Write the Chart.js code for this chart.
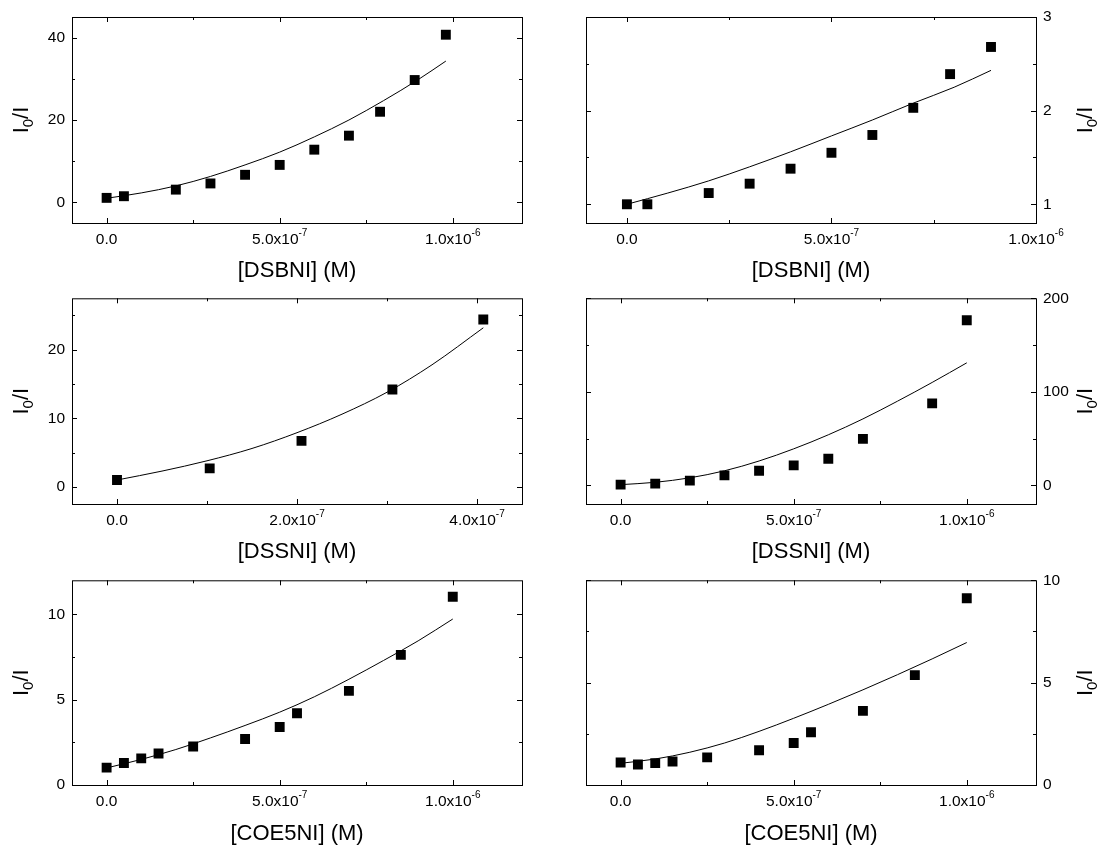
<!DOCTYPE html>
<html>
<head>
<meta charset="utf-8">
<script src="https://cdn.jsdelivr.net/npm/chart.js@4.4.0/dist/chart.umd.min.js"></script>
<style>
  html, body { margin: 0; padding: 0; background: #fff; }
  #wrap { position: relative; width: 1104px; height: 846px; }
  canvas { position: absolute; }
</style>
</head>
<body>
<div id="wrap">
  <canvas id="p1" width="552" height="282" style="left:0;top:0"></canvas>
  <canvas id="p2" width="552" height="282" style="left:552px;top:0"></canvas>
  <canvas id="p3" width="552" height="282" style="left:0;top:282px"></canvas>
  <canvas id="p4" width="552" height="282" style="left:552px;top:282px"></canvas>
  <canvas id="p5" width="552" height="282" style="left:0;top:564px"></canvas>
  <canvas id="p6" width="552" height="282" style="left:552px;top:564px"></canvas>
</div>
<script>
// ---- datos ----
// DSBNI (arriba izquierda)
const conc1 = [0, 0.5e-7, 2e-7, 3e-7, 4e-7, 5e-7, 6e-7, 7e-7, 7.9e-7, 8.9e-7, 9.8e-7];
const ratio1 = [1.1, 1.5, 3.1, 4.6, 6.7, 9.1, 12.8, 16.2, 22.0, 29.7, 40.7];
const fitConc1 = [0, 1e-7, 2e-7, 3e-7, 4e-7, 5e-7, 6e-7, 7e-7, 8e-7, 9e-7, 9.8e-7];
const fitRatio1 = [1.0, 2.3, 4.0, 6.3, 9.1, 12.2, 15.9, 20.0, 24.7, 29.8, 34.3];

// DSBNI (arriba derecha)
const conc2 = [0, 0.5e-7, 2e-7, 3e-7, 4e-7, 5e-7, 6e-7, 7e-7, 7.9e-7, 8.9e-7];
const ratio2 = [1.0, 1.0, 1.12, 1.22, 1.38, 1.55, 1.74, 2.03, 2.39, 2.68];
const fitConc2 = [0, 1e-7, 2e-7, 3e-7, 4e-7, 5e-7, 6e-7, 7e-7, 8e-7, 8.9e-7];
const fitRatio2 = [1.0, 1.12, 1.25, 1.40, 1.56, 1.73, 1.90, 2.08, 2.25, 2.43];

// DSSNI (centro izquierda)
const conc3 = [0, 1.03e-7, 2.05e-7, 3.06e-7, 4.07e-7];
const ratio3 = [1.0, 2.7, 6.7, 14.2, 24.4];
const fitConc3 = [0, 0.5e-7, 1e-7, 1.5e-7, 2e-7, 2.5e-7, 3e-7, 3.5e-7, 4.07e-7];
const fitRatio3 = [1.0, 2.3, 3.8, 5.6, 7.9, 10.6, 13.8, 17.8, 23.2];

// DSSNI (centro derecha)
const conc4 = [0, 1e-7, 2e-7, 3e-7, 4e-7, 5e-7, 6e-7, 7e-7, 9e-7, 1e-6];
const ratio4 = [0.7, 1.8, 5.0, 10.6, 15.6, 21.3, 28.4, 49.6, 87.6, 176.6];
const fitConc4 = [0, 1e-7, 2e-7, 3e-7, 4e-7, 5e-7, 6e-7, 7e-7, 8e-7, 9e-7, 1e-6];
const fitRatio4 = [0.7, 3.2, 8.0, 15.5, 26, 39, 54, 71, 90, 110, 131];

// COE5NI (abajo izquierda)
const conc5 = [0, 0.5e-7, 1e-7, 1.5e-7, 2.5e-7, 4e-7, 5e-7, 5.5e-7, 7e-7, 8.5e-7, 1e-6];
const ratio5 = [1.02, 1.29, 1.56, 1.85, 2.26, 2.70, 3.40, 4.21, 5.52, 7.63, 11.04];
const fitConc5 = [0, 1e-7, 2e-7, 3e-7, 4e-7, 5e-7, 6e-7, 7e-7, 8e-7, 9e-7, 1e-6];
const fitRatio5 = [1.0, 1.5, 2.08, 2.76, 3.49, 4.27, 5.17, 6.2, 7.3, 8.45, 9.73];

// COE5NI (abajo derecha)
const conc6 = [0, 0.5e-7, 1e-7, 1.5e-7, 2.5e-7, 4e-7, 5e-7, 5.5e-7, 7e-7, 8.5e-7, 1e-6];
const ratio6 = [1.1, 1.0, 1.07, 1.15, 1.35, 1.7, 2.05, 2.58, 3.62, 5.37, 9.12];
const fitConc6 = [0, 1e-7, 2e-7, 3e-7, 4e-7, 5e-7, 6e-7, 7e-7, 8e-7, 9e-7, 1e-6];
const fitRatio6 = [1.06, 1.27, 1.60, 2.05, 2.62, 3.26, 3.94, 4.65, 5.39, 6.16, 6.96];

// ---- ticks ----
const xMajorA = [0, 5e-7, 1e-6];
const xMinorA = [2.5e-7, 7.5e-7];
const xBaseA = ['0.0', '5.0x10', '1.0x10'];
const xExpA = ['', '-7', '-6'];
const xMajorB = [0, 2e-7, 4e-7];
const xMinorB = [1e-7, 3e-7];
const xBaseB = ['0.0', '2.0x10', '4.0x10'];
const xExpB = ['', '-7', '-7'];

const yMajor1 = [0, 20, 40], yMinor1 = [10, 30];
const yMajor2 = [1, 2, 3], yMinor2 = [1.5, 2.5];
const yMajor3 = [0, 10, 20], yMinor3 = [5, 15, 25];
const yMajor4 = [0, 100, 200], yMinor4 = [50, 150];
const yMajor5 = [0, 5, 10], yMinor5 = [2.5, 7.5];
const yMajor6 = [0, 5, 10], yMinor6 = [2.5, 7.5];

const FAMILY = '"Liberation Sans", Arial, Helvetica, sans-serif';
const tickFont = '15.5px ' + FAMILY;
const supFont = '10px ' + FAMILY;

// marco, ticks hacia dentro y textos con super/subíndice
const framePlugin = {
  id: 'frame',
  beforeDatasetsDraw(chart, args, o) {
    const { ctx, chartArea: a, scales: { x, y } } = chart;
    ctx.save();
    ctx.strokeStyle = '#000';
    ctx.lineWidth = 1;
    ctx.strokeRect(a.left + 0.5, a.top + 0.5, a.right - a.left, a.bottom - a.top);
    ctx.beginPath();
    const xt = (v, len) => {
      const px = Math.round(x.getPixelForValue(v)) + 0.5;
      ctx.moveTo(px, a.bottom); ctx.lineTo(px, a.bottom - len);
      ctx.moveTo(px, a.top); ctx.lineTo(px, a.top + len);
    };
    const yt = (v, len) => {
      const py = Math.round(y.getPixelForValue(v)) + 0.5;
      ctx.moveTo(a.left, py); ctx.lineTo(a.left + len, py);
      ctx.moveTo(a.right, py); ctx.lineTo(a.right - len, py);
    };
    o.xMajor.forEach(v => xt(v, 5));
    o.xMinor.forEach(v => xt(v, 3));
    o.yMajor.forEach(v => yt(v, 5));
    o.yMinor.forEach(v => yt(v, 3));
    ctx.stroke();
    ctx.restore();
  },
  afterDraw(chart, args, o) {
    const { ctx, chartArea: a, scales: { x } } = chart;
    ctx.save();
    ctx.fillStyle = '#000';
    ctx.textAlign = 'left';
    ctx.textBaseline = 'alphabetic';
    // etiquetas del eje x con exponente
    const by = a.bottom + 21;
    o.xMajor.forEach((v, i) => {
      ctx.font = tickFont;
      const wb = ctx.measureText(o.xBase[i]).width;
      ctx.font = supFont;
      const we = o.xExp[i] ? ctx.measureText(o.xExp[i]).width : 0;
      const sx = x.getPixelForValue(v) - (wb + we) / 2;
      ctx.font = tickFont;
      ctx.fillText(o.xBase[i], sx, by);
      if (o.xExp[i]) {
        ctx.font = supFont;
        ctx.fillText(o.xExp[i], sx + wb, by - 8);
      }
    });
    // título del eje y: I0/I
    const big = '22px ' + FAMILY, small = '15px ' + FAMILY;
    ctx.font = big; const wI = ctx.measureText('I').width; const wR = ctx.measureText('/I').width;
    ctx.font = small; const w0 = ctx.measureText('0').width;
    const tx = o.yTitleRight ? a.right + 56 : a.left - 44;
    ctx.translate(tx, (a.top + a.bottom) / 2);
    ctx.rotate(-Math.PI / 2);
    const s = -(wI + w0 + wR) / 2;
    ctx.font = big; ctx.fillText('I', s, 0);
    ctx.font = small; ctx.fillText('0', s + wI, 5);
    ctx.font = big; ctx.fillText('/I', s + wI + w0, 0);
    ctx.restore();
  }
};

function makePanel(id, p) {
  const right = p.side === 'right';
  new Chart(document.getElementById(id), {
    type: 'scatter',
    data: {
      datasets: [
        {
          data: p.cx.map((c, i) => ({ x: c, y: p.cy[i] })),
          pointStyle: 'rect',
          pointRadius: 7,
          backgroundColor: '#000',
          borderColor: '#000',
          borderWidth: 0
        },
        {
          data: p.fx.map((c, i) => ({ x: c, y: p.fy[i] })),
          showLine: true,
          pointRadius: 0,
          borderColor: '#000',
          borderWidth: 1,
          cubicInterpolationMode: 'monotone'
        }
      ]
    },
    options: {
      responsive: false,
      animation: false,
      events: [],
      layout: { padding: { left: right ? p.padSide : 0, right: right ? 0 : p.padSide, top: p.top, bottom: 0 } },
      plugins: {
        legend: { display: false },
        tooltip: { enabled: false },
        frame: {
          xMajor: p.xMajor, xMinor: p.xMinor, xBase: p.xBase, xExp: p.xExp,
          yMajor: p.yMajor, yMinor: p.yMinor, yTitleRight: right
        }
      },
      scales: {
        x: {
          type: 'linear',
          min: p.xMin, max: p.xMax,
          grid: { display: false, drawTicks: false },
          border: { display: false },
          ticks: { display: false },
          afterBuildTicks: s => { s.ticks = p.xMajor.map(v => ({ value: v })); },
          afterFit: s => { s.height = p.xHeight; },
          title: {
            display: true, text: p.xTitle, color: '#000',
            font: { family: FAMILY, size: 22, lineHeight: 1 },
            padding: { top: 0, bottom: p.titlePad }
          }
        },
        y: {
          type: 'linear',
          position: right ? 'right' : 'left',
          min: p.yMin, max: p.yMax,
          grid: { display: false, drawTicks: false },
          border: { display: false },
          ticks: {
            color: '#000', padding: 7,
            font: { family: FAMILY, size: 15.5 },
            callback: v => String(v)
          },
          afterBuildTicks: s => { s.ticks = p.yMajor.map(v => ({ value: v })); },
          afterFit: s => { s.width = p.yWidth; }
        }
      }
    },
    plugins: [framePlugin]
  });
}

const colA = { side: 'left', yWidth: 72, padSide: 30 };
const colB = { side: 'right', yWidth: 68, padSide: 34 };
const row1 = { top: 17, xHeight: 59, titlePad: 0 };
const row2 = { top: 15, xHeight: 60, titlePad: 1 };
const row3 = { top: 14, xHeight: 61, titlePad: 1 };

makePanel('p1', Object.assign({}, colA, row1, {
  cx: conc1, cy: ratio1, fx: fitConc1, fy: fitRatio1,
  xMin: -1e-7, xMax: 1.2e-6, yMin: -5, yMax: 45,
  xMajor: xMajorA, xMinor: xMinorA, xBase: xBaseA, xExp: xExpA,
  yMajor: yMajor1, yMinor: yMinor1, xTitle: '[DSBNI] (M)'
}));
makePanel('p2', Object.assign({}, colB, row1, {
  cx: conc2, cy: ratio2, fx: fitConc2, fy: fitRatio2,
  xMin: -1e-7, xMax: 1e-6, yMin: 0.8, yMax: 3,
  xMajor: xMajorA, xMinor: xMinorA, xBase: xBaseA, xExp: xExpA,
  yMajor: yMajor2, yMinor: yMinor2, xTitle: '[DSBNI] (M)'
}));
makePanel('p3', Object.assign({}, colA, row2, {
  cx: conc3, cy: ratio3, fx: fitConc3, fy: fitRatio3,
  xMin: -0.5e-7, xMax: 4.5e-7, yMin: -2.5, yMax: 27.5,
  xMajor: xMajorB, xMinor: xMinorB, xBase: xBaseB, xExp: xExpB,
  yMajor: yMajor3, yMinor: yMinor3, xTitle: '[DSSNI] (M)'
}));
makePanel('p4', Object.assign({}, colB, row2, {
  cx: conc4, cy: ratio4, fx: fitConc4, fy: fitRatio4,
  xMin: -1e-7, xMax: 1.2e-6, yMin: -20, yMax: 200,
  xMajor: xMajorA, xMinor: xMinorA, xBase: xBaseA, xExp: xExpA,
  yMajor: yMajor4, yMinor: yMinor4, xTitle: '[DSSNI] (M)'
}));
makePanel('p5', Object.assign({}, colA, row3, {
  cx: conc5, cy: ratio5, fx: fitConc5, fy: fitRatio5,
  xMin: -1e-7, xMax: 1.2e-6, yMin: 0, yMax: 12,
  xMajor: xMajorA, xMinor: xMinorA, xBase: xBaseA, xExp: xExpA,
  yMajor: yMajor5, yMinor: yMinor5, xTitle: '[COE5NI] (M)'
}));
makePanel('p6', Object.assign({}, colB, row3, {
  cx: conc6, cy: ratio6, fx: fitConc6, fy: fitRatio6,
  xMin: -1e-7, xMax: 1.2e-6, yMin: 0, yMax: 10,
  xMajor: xMajorA, xMinor: xMinorA, xBase: xBaseA, xExp: xExpA,
  yMajor: yMajor6, yMinor: yMinor6, xTitle: '[COE5NI] (M)'
}));
</script>
</body>
</html>
